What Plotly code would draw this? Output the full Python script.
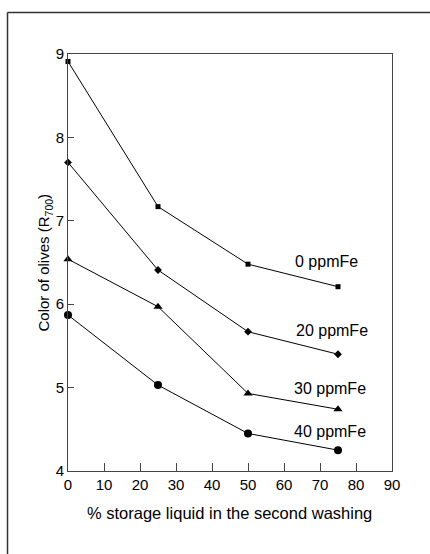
import plotly.graph_objects as go

# Data
storage_pct = [0, 25, 50, 75]
fe_0 = [8.91, 7.17, 6.48, 6.21]
fe_20 = [7.70, 6.41, 5.67, 5.40]
fe_30 = [6.54, 5.97, 4.93, 4.74]
fe_40 = [5.87, 5.03, 4.45, 4.25]

series_names = ["0 ppmFe", "20 ppmFe", "30 ppmFe", "40 ppmFe"]
series_values = [fe_0, fe_20, fe_30, fe_40]
label_x = [71.7, 73.2, 72.8, 72.9]
label_y = [6.51, 5.69, 4.99, 4.47]

x_ticks = [0, 10, 20, 30, 40, 50, 60, 70, 80, 90]
y_ticks = [4, 5, 6, 7, 8, 9]

markers = [
    dict(symbol="square", size=5),
    dict(symbol="diamond", size=6),
    dict(symbol="triangle-up", size=8),
    dict(symbol="circle", size=8),
]

FONT = "Liberation Sans, Arial, Helvetica, sans-serif"

fig = go.Figure()
for name, vals, mk in zip(series_names, series_values, markers):
    fig.add_trace(go.Scatter(
        x=storage_pct, y=vals, mode="lines+markers", name=name,
        line=dict(color="black", width=1),
        marker=dict(color="black", line=dict(width=0), **mk),
        cliponaxis=False, showlegend=False,
    ))

for name, lx, ly in zip(series_names, label_x, label_y):
    fig.add_annotation(x=lx, y=ly, text=name, showarrow=False,
                       xanchor="center", yanchor="middle",
                       font=dict(size=16, color="black", family=FONT))

axis_common = dict(showline=True, mirror=True, linecolor="#444", linewidth=1,
                   ticks="inside", tickcolor="#444", showgrid=False, zeroline=False,
                   tickfont=dict(size=15, color="black", family=FONT))

fig.update_xaxes(range=[0, 90], tickvals=x_ticks, ticklen=8, **axis_common)
fig.update_yaxes(range=[4, 9], tickvals=y_ticks, ticklen=6, **axis_common)

# Axis titles
fig.add_annotation(xref="paper", yref="paper", x=0.498, y=-0.1,
                   text="% storage liquid in the second washing", showarrow=False,
                   xanchor="center", yanchor="middle",
                   font=dict(size=16.5, color="black", family=FONT))
fig.add_annotation(xref="paper", yref="paper", x=-0.071, y=0.5,
                   text="Color of olives (R<sub>700</sub>)", showarrow=False,
                   textangle=-90, xanchor="center", yanchor="middle",
                   font=dict(size=15, color="black", family=FONT))

# Page frame (top and left border of scanned page)
fig.add_shape(type="line", xref="paper", yref="paper",
              x0=-0.1867, y0=1.0995, x1=1.12, y1=1.0995,
              line=dict(color="#333", width=1.5))
fig.add_shape(type="line", xref="paper", yref="paper",
              x0=-0.1867, y0=1.0995, x1=-0.1867, y1=-0.2,
              line=dict(color="#333", width=1.5))

fig.update_layout(
    width=430, height=554,
    margin=dict(l=68, r=38, t=54, b=83),
    paper_bgcolor="white", plot_bgcolor="white",
    font=dict(family=FONT, color="black"),
)

fig.write_html("out.html", config={"displayModeBar": False},
               post_script="document.body.style.margin='0';document.body.style.overflow='hidden';")
